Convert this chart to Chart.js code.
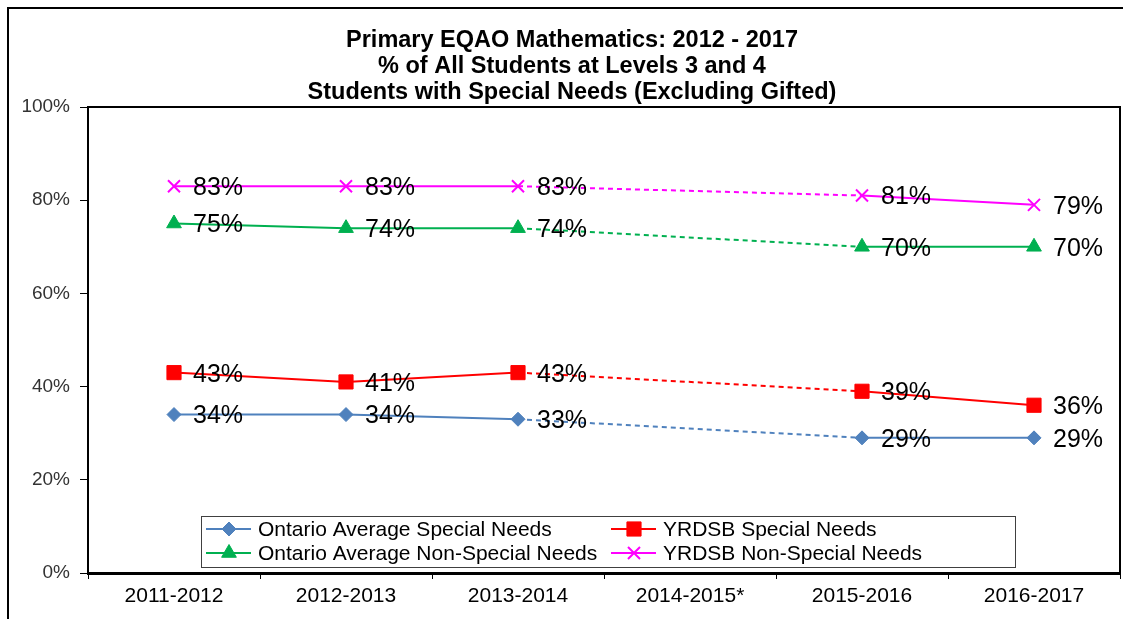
<!DOCTYPE html>
<html>
<head>
<meta charset="utf-8">
<script src="https://cdn.jsdelivr.net/npm/chart.js@4"></script>
<style>
  body { margin: 0; background: #fff; }
</style>
</head>
<body>
<canvas id="myChart" width="1123" height="619"></canvas>
<script>
var years = ["2011-2012", "2012-2013", "2013-2014", "2014-2015*", "2015-2016", "2016-2017"];
var ontarioSpecial = [34, 34, 33, null, 29, 29];
var yrdsbSpecial = [43, 41, 43, null, 39, 36];
var ontarioNonSpecial = [75, 74, 74, null, 70, 70];
var yrdsbNonSpecial = [83, 83, 83, null, 81, 79];
var titleLines = [
  "Primary EQAO Mathematics: 2012 - 2017",
  "% of All Students at Levels 3 and 4",
  "Students with Special Needs (Excluding Gifted)"
];

var FONT = "'Liberation Sans', Arial, sans-serif";

function makeSet(label, data, color, style, radius) {
  return {
    label: label,
    data: data,
    borderColor: color,
    backgroundColor: color,
    pointBackgroundColor: color,
    pointBorderColor: color,
    pointStyle: style,
    pointRadius: radius,
    pointBorderWidth: style == "crossRot" ? 2 : 1,
    borderWidth: 2,
    spanGaps: true,
    tension: 0,
    segment: {
      // dashed where the line jumps over the missing year
      borderDash: function (ctx) {
        var gap = ctx.p0.skip || ctx.p1.skip ||
          data[ctx.p0DataIndex] == null || data[ctx.p1DataIndex] == null ||
          ctx.p1DataIndex - ctx.p0DataIndex > 1;
        return gap ? [5, 4] : undefined;
      }
    }
  };
}

// frame, title and plot border
var framePlugin = {
  id: "frame",
  beforeDraw: function (chart) {
    var c = chart.ctx;
    c.save();
    c.fillStyle = "#fff";
    c.fillRect(0, 0, chart.width, chart.height);
    c.strokeStyle = "#000";
    c.lineWidth = 2;
    c.strokeRect(8, 8, chart.width + 20, chart.height + 20);
    c.fillStyle = "#000";
    c.font = "bold 23.5px " + FONT;
    c.textAlign = "center";
    c.textBaseline = "middle";
    for (var i = 0; i < titleLines.length; i++) {
      c.fillText(titleLines[i], 572, 41 + i * 26);
    }
    c.restore();
  },
  afterDraw: function (chart) {
    var a = chart.chartArea;
    var c = chart.ctx;
    c.save();
    c.strokeStyle = "#000";
    c.lineWidth = 2;
    c.strokeRect(a.left, a.top, a.right - a.left, a.bottom - a.top);
    c.restore();
  }
};

// value labels to the right of each point
var labelPlugin = {
  id: "valueLabels",
  afterDatasetsDraw: function (chart) {
    var c = chart.ctx;
    c.save();
    c.fillStyle = "#000";
    c.font = "25px " + FONT;
    c.textAlign = "left";
    c.textBaseline = "middle";
    chart.data.datasets.forEach(function (ds, i) {
      var meta = chart.getDatasetMeta(i);
      meta.data.forEach(function (pt, j) {
        var v = ds.data[j];
        if (v == null) return;
        c.fillText(v + "%", pt.x + 19, pt.y + 2);
      });
    });
    c.restore();
  }
};

// boxed two-column legend inside the plot area
var legendPlugin = {
  id: "boxLegend",
  afterDraw: function (chart) {
    var c = chart.ctx;
    var box = { x: 201, y: 516, w: 814, h: 51 };
    var colX = [201, 606];
    var rowY = [529, 553];
    c.save();
    c.fillStyle = "#fff";
    c.fillRect(box.x, box.y, box.w, box.h);
    c.strokeStyle = "#404040";
    c.lineWidth = 1;
    c.strokeRect(box.x + 0.5, box.y + 0.5, box.w, box.h);
    c.font = "21px " + FONT;
    c.textBaseline = "middle";
    chart.data.datasets.forEach(function (ds, i) {
      var x = colX[i % 2];
      var y = rowY[Math.floor(i / 2)];
      c.strokeStyle = ds.borderColor;
      c.lineWidth = 2;
      c.beginPath();
      c.moveTo(x + 5, y);
      c.lineTo(x + 50, y);
      c.stroke();
      c.fillStyle = ds.backgroundColor;
      c.lineWidth = ds.pointBorderWidth;
      Chart.helpers.drawPoint(c, { pointStyle: ds.pointStyle, radius: ds.pointRadius, borderWidth: ds.pointBorderWidth }, x + 28, y);
      c.fillStyle = "#000";
      c.fillText(ds.label, x + 57, y + 1);
    });
    c.restore();
  }
};

var ctx = document.getElementById("myChart").getContext("2d");
var myChart = new Chart(ctx, {
  type: "line",
  data: {
    labels: years,
    datasets: [
      makeSet("Ontario Average Special Needs", ontarioSpecial, "#4F81BD", "rectRot", 7),
      makeSet("YRDSB Special Needs", yrdsbSpecial, "#FF0000", "rect", 10),
      makeSet("Ontario Average Non-Special Needs", ontarioNonSpecial, "#00B050", "triangle", 8.5),
      makeSet("YRDSB Non-Special Needs", yrdsbNonSpecial, "#FF00FF", "crossRot", 8.5)
    ]
  },
  options: {
    responsive: false,
    devicePixelRatio: 1,
    animation: false,
    layout: { autoPadding: false, padding: { top: 107, right: 3, left: 0, bottom: 0 } },
    plugins: {
      legend: { display: false },
      title: { display: false },
      tooltip: { enabled: false }
    },
    scales: {
      x: {
        offset: true,
        grid: { offset: true, drawOnChartArea: false, tickLength: 6, color: "#000", lineWidth: 1 },
        border: { color: "#000", width: 3 },
        ticks: { color: "#000", font: { family: FONT, size: 21 }, padding: 5, maxRotation: 0 },
        afterFit: function (scale) {
          scale.height = 46;
          scale.paddingLeft = 0;
          scale.paddingRight = 0;
        }
      },
      y: {
        min: 0,
        max: 100,
        grid: { drawOnChartArea: false, tickLength: 8, color: "#000", lineWidth: 1 },
        border: { color: "#000", width: 2 },
        ticks: {
          stepSize: 20,
          color: "#333",
          font: { family: FONT, size: 19 },
          padding: 10,
          callback: function (v) { return v + "%"; }
        },
        afterFit: function (scale) { scale.width = 88; }
      }
    }
  },
  plugins: [framePlugin, labelPlugin, legendPlugin]
});
</script>
</body>
</html>
